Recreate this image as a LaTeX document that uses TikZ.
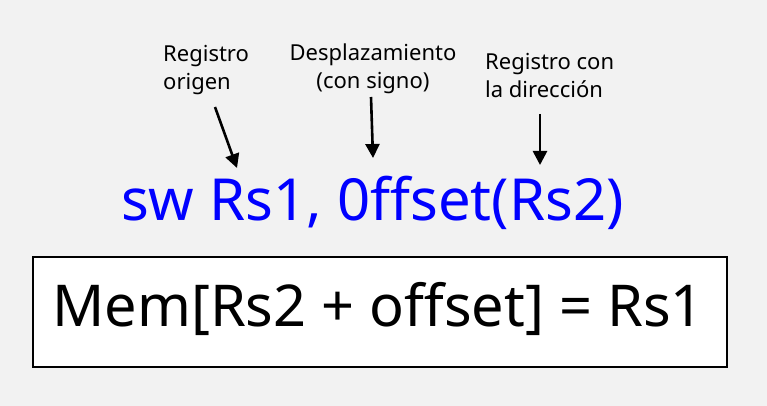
\documentclass[tikz,border=0pt]{standalone}
\usepackage{fontspec}
\setmainfont{Noto Sans}
\usetikzlibrary{arrows.meta}
\definecolor{bg}{HTML}{F2F2F2}
\definecolor{instblue}{HTML}{0000FF}
\tikzset{
  lbl/.style={inner sep=0pt, font=\fontsize{22}{28}\selectfont},
  pointer/.style={line width=2.6pt, -{Triangle[length=14pt,width=14pt]}},
}
\begin{document}
\begin{tikzpicture}[x=1pt,y=-1pt]
\fill[bg] (0,0) rectangle (767,406);
\useasboundingbox (0,0) rectangle (767,406);
\node[lbl, anchor=base west, align=left] (l1) at (163,90) {Registro\\origen};
\node[lbl, anchor=base, align=center] (l2) at (373,89) {Desplazamiento\\(con signo)};
\node[lbl, anchor=base west, align=left] (l3) at (485,98) {Registro con\\la dirección};
\node[inner sep=0pt, anchor=base west, text=instblue, font=\fontsize{58}{60}\selectfont] (inst) at (121,220) {sw Rs1, 0ffset(Rs2)};
\node[draw=black, fill=white, line width=1.3pt, minimum width=694pt, minimum height=110pt, inner sep=0pt] (box) at (380,312) {};
\node[inner sep=0pt, anchor=base, font=\fontsize{57.7}{60}\selectfont] (eq) at (378,326) {Mem[Rs2 + offset] = Rs1};
\coordinate (a1s) at (215,107); \coordinate (a1e) at (237,168);
\coordinate (a2s) at (371,97); \coordinate (a2e) at (373,158);
\coordinate (a3s) at (540,114); \coordinate (a3e) at (540,165);
\draw[pointer] (a1s) -- (a1e);
\draw[pointer] (a2s) -- (a2e);
\draw[pointer] (a3s) -- (a3e);
\end{tikzpicture}
\end{document}
